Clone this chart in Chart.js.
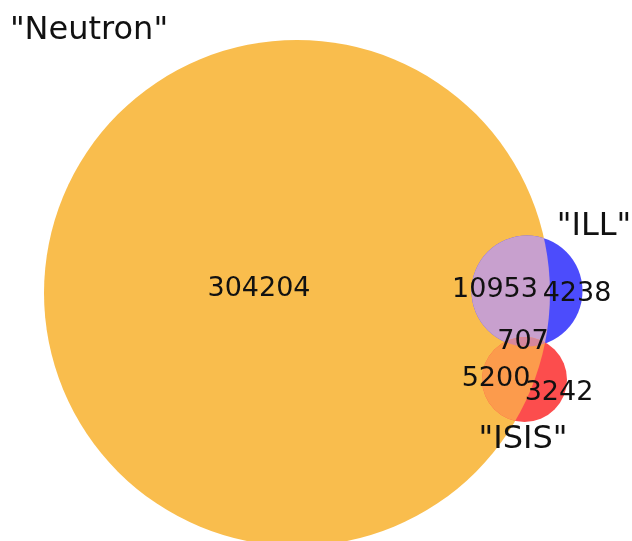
<!DOCTYPE html>
<html>
<head>
<meta charset="utf-8">
<script src="https://cdn.jsdelivr.net/npm/chart.js@4"></script>
<style>
  html, body { margin: 0; padding: 0; background: #fff; }
  canvas { display: block; }
</style>
</head>
<body>
<canvas id="venn" width="632" height="541"></canvas>
<script>
// Sets (circle centre and radius in plot units)
const setNames = ['"Neutron"', '"ILL"', '"ISIS"'];
const setX = [297, 527, 524.5];
const setY = [293, 291, 379.5];
const setR = [253, 55.5, 42.5];

// Region counts
const regionNames = ['Neutron only', 'Neutron & ILL', 'ILL only', 'Neutron & ILL & ISIS', 'Neutron & ISIS', 'ISIS only'];
const regionCounts = [304204, 10953, 4238, 707, 5200, 3242];

// where the labels sit (plot units)
const setLabelPos = [[89, 31], [594, 227], [523, 440]];
const regionLabelPos = [[259, 289], [495, 290], [577, 294], [523, 342], [496, 379], [559, 393]];

const setColors = ['rgb(249,189,77)', 'rgb(76,76,252)', 'rgb(252,77,77)'];
const overlapColors = {
  neutronIll: 'rgb(200,160,206)',
  neutronIsis: 'rgb(252,155,76)',
  all: 'rgb(214,134,156)'
};

function radiusPx(chart, r) {
  const xs = chart.scales.x;
  return Math.abs(xs.getPixelForValue(r) - xs.getPixelForValue(0));
}

function circlePath(c, chart, i) {
  const xs = chart.scales.x, ys = chart.scales.y;
  c.beginPath();
  c.arc(xs.getPixelForValue(setX[i]), ys.getPixelForValue(setY[i]), radiusPx(chart, setR[i]), 0, Math.PI * 2);
}

const overlapPlugin = {
  id: 'overlaps',
  afterDatasetsDraw(chart) {
    const c = chart.ctx;
    // Neutron & ILL, Neutron & ISIS
    c.save(); circlePath(c, chart, 0); c.clip();
    circlePath(c, chart, 1); c.fillStyle = overlapColors.neutronIll; c.fill();
    circlePath(c, chart, 2); c.fillStyle = overlapColors.neutronIsis; c.fill();
    c.restore();
    // all three
    c.save(); circlePath(c, chart, 0); c.clip(); circlePath(c, chart, 1); c.clip();
    circlePath(c, chart, 2); c.fillStyle = overlapColors.all; c.fill();
    c.restore();
  }
};

const labelPlugin = {
  id: 'vennLabels',
  afterDraw(chart) {
    const c = chart.ctx, xs = chart.scales.x, ys = chart.scales.y;
    c.save();
    c.fillStyle = '#111';
    c.textAlign = 'center';
    c.textBaseline = 'middle';
    c.font = '32px "DejaVu Sans"';
    setNames.forEach((n, i) => {
      c.fillText(n, xs.getPixelForValue(setLabelPos[i][0]), ys.getPixelForValue(setLabelPos[i][1]));
    });
    c.font = '27px "DejaVu Sans"';
    regionCounts.forEach((v, i) => {
      c.fillText(String(v), xs.getPixelForValue(regionLabelPos[i][0]), ys.getPixelForValue(regionLabelPos[i][1]));
    });
    c.restore();
  }
};

const ctxVenn = document.getElementById('venn').getContext('2d');
const vennChart = new Chart(ctxVenn, {
  type: 'scatter',
  data: {
    datasets: setNames.map((name, i) => ({
      label: name,
      data: [{ x: setX[i], y: setY[i] }],
      pointBackgroundColor: setColors[i],
      pointBorderWidth: 0,
      pointRadius: ctx => radiusPx(ctx.chart, setR[i]),
      clip: false,
      order: 3 - i
    }))
  },
  options: {
    responsive: false,
    animation: false,
    events: [],
    layout: { padding: 0 },
    plugins: { legend: { display: false }, tooltip: { enabled: false } },
    scales: {
      x: { type: 'linear', min: 0, max: 632, display: false },
      y: { type: 'linear', min: 0, max: 541, reverse: true, display: false }
    }
  },
  plugins: [overlapPlugin, labelPlugin]
});
</script>
</body>
</html>
